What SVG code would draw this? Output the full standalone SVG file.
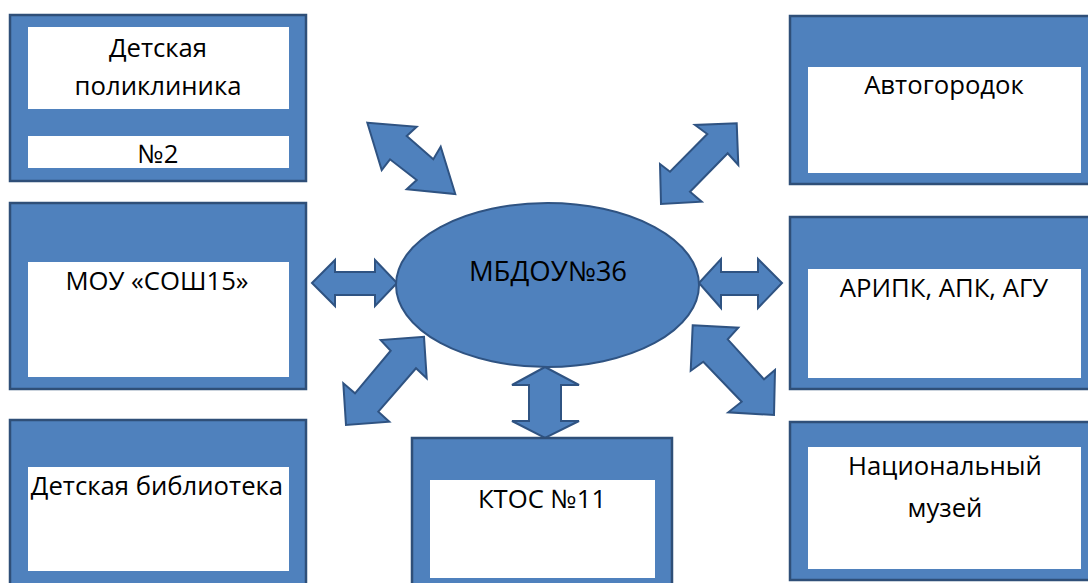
<svg xmlns="http://www.w3.org/2000/svg" width="1088" height="583" viewBox="0 0 1088 583">
<style>
.box{fill:#4F81BD;stroke:#2F4F78;stroke-width:2.5}
.inner{fill:#FFFFFF}
.arr{fill:#4F81BD;stroke:#2F5382;stroke-width:2;stroke-linejoin:miter}
.t{font-family:"Open Sans","Liberation Sans",Arial,sans-serif;font-size:25.7px;fill:#000;text-anchor:middle}
</style>
<rect width="1088" height="583" fill="#FFFFFF"/>
<g id="connectors">
<polygon class="arr" points="367.3,122.7 416.7,126.7 406.7,136 433.3,159.3 440.7,146.7 455.3,194 406.7,189.3 416.7,180 390,159.3 381.7,170"/>
<polygon class="arr" points="736.7,123.3 738.3,165 727.7,153.3 690,191.7 701.7,201.7 661,204 660,164 670,171.7 707.3,134 695,125"/>
<polygon class="arr" points="424,336.7 426.7,378.3 416,368.3 378.3,411.7 389.3,421.7 346,425 343.3,383.3 355,393.3 390.7,350.7 380.7,340"/>
<polygon class="arr" points="692.7,325.3 738.3,327.7 727.7,339.3 764,379.3 775,370 774,415 728.3,412.3 741.7,401.7 703.3,361.7 690.7,370.7"/>
<polygon class="arr" points="312,283 335,260 335,272 375,272 375,260 397,283 375,306 375,295 335,295 335,306"/>
<polygon class="arr" points="699,283 721,259 721,272 758,272 758,259 782,283 758,308 758,295 721,295 721,308"/>
<polygon class="arr" points="545,367 579,385 561,385 561,421 579,421 545,438 512,421 529,421 529,385 512,385"/>
</g>
<g id="center">
<ellipse cx="547.5" cy="285" rx="151.5" ry="82" fill="#4F81BD" stroke="#2F5382" stroke-width="2"/>
<text class="t" x="548" y="281" style="font-size:27.5px">МБДОУ№36</text>
</g>
<g id="polyclinic">
<rect class="box" x="10" y="15" width="296" height="166"/>
<rect class="inner" x="28" y="27" width="261" height="82"/>
<rect class="inner" x="28" y="136" width="261" height="32"/>
<text class="t" x="158" y="57">Детская</text>
<text class="t" x="158" y="95">поликлиника</text>
<text class="t" x="158" y="163">№2</text>
</g>
<g id="school">
<rect class="box" x="10" y="203" width="296" height="186"/>
<rect class="inner" x="28" y="262" width="261" height="115"/>
<text class="t" x="157" y="290">МОУ «СОШ15»</text>
</g>
<g id="library">
<rect class="box" x="10" y="420" width="296" height="170"/>
<rect class="inner" x="28" y="467" width="261" height="104"/>
<text class="t" x="157" y="495">Детская библиотека</text>
</g>
<g id="ktos">
<rect class="box" x="412" y="438" width="260" height="160"/>
<rect class="inner" x="430" y="480" width="225" height="98"/>
<text class="t" x="542" y="508">КТОС №11</text>
</g>
<g id="autotown">
<rect class="box" x="790" y="16" width="305" height="168"/>
<rect class="inner" x="808" y="67" width="273" height="106"/>
<text class="t" x="944" y="94">Автогородок</text>
</g>
<g id="institutes">
<rect class="box" x="790" y="217" width="305" height="172"/>
<rect class="inner" x="808" y="269" width="273" height="109"/>
<text class="t" x="944" y="297">АРИПК, АПК, АГУ</text>
</g>
<g id="museum">
<rect class="box" x="790" y="422" width="305" height="158"/>
<rect class="inner" x="808" y="447" width="273" height="122"/>
<text class="t" x="945" y="475">Национальный</text>
<text class="t" x="945" y="517">музей</text>
</g>
</svg>
